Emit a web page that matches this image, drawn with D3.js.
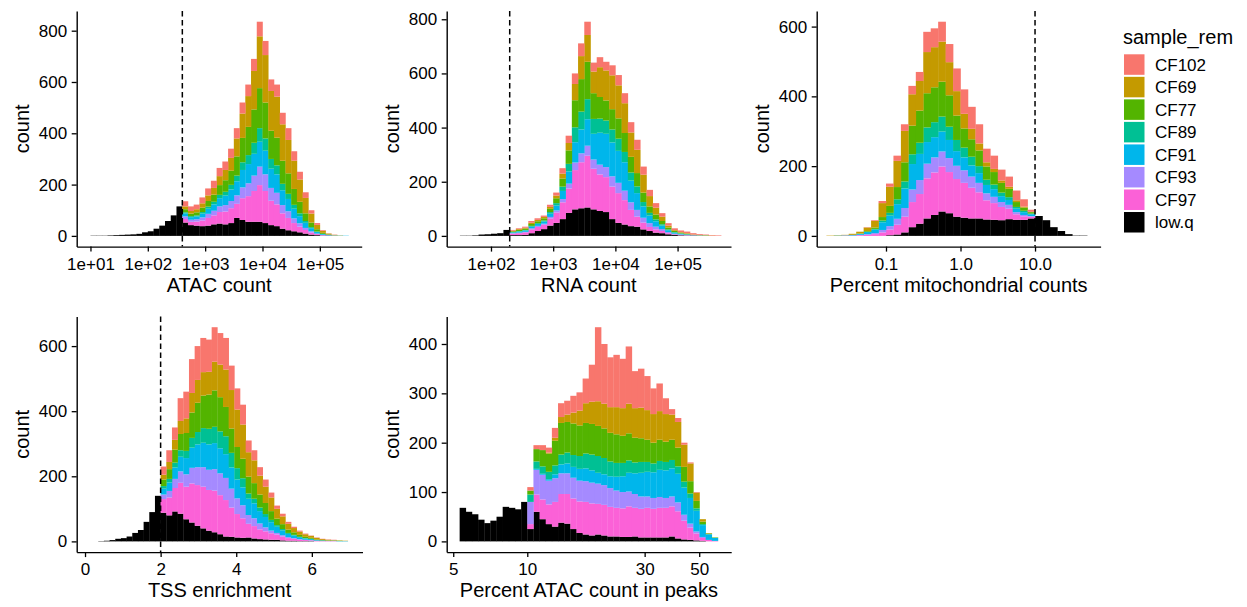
<!DOCTYPE html>
<html>
<head>
<meta charset="utf-8">
<script src="https://cdn.jsdelivr.net/npm/d3@7"></script>
<style>
  body { margin: 0; background: #fff; }
  svg { display: block; font-family: "Liberation Sans", Arial, Helvetica, sans-serif; }
</style>
</head>
<body>
<svg id="chart" width="1247" height="607"></svg>
<script>
// ---- samples (stacking order: first key sits at the bottom) ----
const stackKeys = ["low.q", "CF97", "CF93", "CF91", "CF89", "CF77", "CF69", "CF102"];
const legendKeys = ["CF102", "CF69", "CF77", "CF89", "CF91", "CF93", "CF97", "low.q"];
const sampleColors = ["#000000", "#FB61D7", "#A58AFF", "#00B6EB", "#00C094", "#53B400", "#C49A00", "#F8766D"];

// ---- ATAC count (bins are lower edges in log10 units, width 0.1) ----
const atacBins = [1.0,1.1,1.2,1.3,1.4,1.5,1.6,1.7,1.8,1.9,2.0,2.1,2.2,2.3,2.4,2.5,2.6,2.7,2.8,2.9,3.0,3.1,3.2,3.3,3.4,3.5,3.6,3.7,3.8,3.9,4.0,4.1,4.2,4.3,4.4,4.5,4.6,4.7,4.8,4.9,5.0,5.1,5.2,5.3,5.4];
const atacLowq  = [1,1,1,2,3,4,5,6,8,14,18,28,40,58,80,115, 52,42,40,38,40,45,48,45,50,70,62,55,55,55,50,42,38,28,22,18,14,9,5,3,1,1,0,0,0];
const atacCF97  = [0,0,0,0,0,0,0,0,0,0,0,0,0,0,0,0, 14,13,16,22,30,35,45,50,58,55,85,100,120,143,125,95,85,60,48,32,22,14,8,4,2,1,1,0,0];
const atacCF93  = [0,0,0,0,0,0,0,0,0,0,0,0,0,0,0,0, 10,8,9,12,16,18,22,25,28,33,42,50,60,72,65,50,45,32,26,18,13,8,5,2,1,0,0,0,0];
const atacCF91  = [0,0,0,0,0,0,0,0,0,0,0,0,0,0,0,0, 12,10,11,15,20,25,32,37,45,55,68,75,85,97,92,75,72,58,48,38,28,20,12,6,3,2,1,1,1];
const atacCF89  = [0,0,0,0,0,0,0,0,0,0,0,0,0,0,0,0, 4,4,4,6,8,10,13,15,18,22,30,35,43,53,48,38,35,25,20,15,11,7,4,2,1,0,0,0,0];
const atacCF77  = [0,0,0,0,0,0,0,0,0,0,0,0,0,0,0,0, 12,10,12,17,22,28,38,45,55,75,95,110,130,156,140,110,108,90,80,62,45,30,18,9,4,2,1,0,0];
const atacCF69  = [0,0,0,0,0,0,0,0,0,0,0,0,0,0,0,0, 11,10,12,17,22,26,35,40,50,70,95,120,150,202,185,155,160,142,130,110,87,60,35,17,7,3,1,1,0];
const atacCF102 = [0,0,0,0,0,0,0,0,0,0,0,0,0,0,0,0, 20,18,18,23,27,28,32,33,36,40,43,45,47,57,55,45,47,45,46,37,30,22,13,7,3,1,1,0,0];

// ---- RNA count (log10 edges, width 0.1) ----
const rnaBins = [1.5,1.6,1.7,1.8,1.9,2.0,2.1,2.2,2.3,2.4,2.5,2.6,2.7,2.8,2.9,3.0,3.1,3.2,3.3,3.4,3.5,3.6,3.7,3.8,3.9,4.0,4.1,4.2,4.3,4.4,4.5,4.6,4.7,4.8,4.9,5.0,5.1,5.2,5.3,5.4,5.5,5.6];
const rnaLowq  = [1,1,2,5,6,8,10,22, 3,3,4,10,18,25,38,48,62,85,98,102,105,98,92,88,62,48,42,36,34,24,18,12,10,6,4,2,1,1,0,0,0,0];
const rnaCF97  = [0,0,0,0,0,0,0,0, 5,7,9,14,15,16,26,38,62,90,145,170,191,150,135,129,120,110,90,60,37,25,15,12,8,4,2,2,1,1,1,0,0,0];
const rnaCF93  = [0,0,0,0,0,0,0,0, 2,2,2,4,4,4,6,8,12,18,28,33,37,34,36,37,38,38,35,28,25,18,14,10,7,4,2,1,1,0,0,0,0,0];
const rnaCF91  = [0,0,0,0,0,0,0,0, 3,4,5,6,7,8,12,18,30,45,75,88,98,95,118,123,125,118,105,80,62,42,28,20,13,7,4,3,2,1,1,1,0,0];
const rnaCF89  = [0,0,0,0,0,0,0,0, 1,2,2,3,3,4,6,9,16,28,55,66,74,55,52,49,48,45,38,30,25,16,10,7,5,3,2,1,1,0,0,0,0,0];
const rnaCF77  = [0,0,0,0,0,0,0,0, 3,4,5,7,7,8,12,18,30,50,100,120,138,95,80,74,75,75,70,58,49,35,24,18,12,7,4,3,2,1,1,1,0,0];
const rnaCF69  = [0,0,0,0,0,0,0,0, 2,3,3,5,5,5,7,10,18,27,60,85,99,80,110,111,125,122,110,90,86,66,38,25,16,7,3,2,2,1,1,1,1,0];
const rnaCF102 = [0,0,0,0,0,0,0,0, 3,3,4,6,6,5,8,11,20,27,39,47,49,33,37,32,37,38,37,38,37,30,23,17,13,9,7,6,6,5,3,2,2,2];

// ---- Percent mitochondrial counts (log10 edges, width 0.1) ----
const mitoBins = [-1.8,-1.7,-1.6,-1.5,-1.4,-1.3,-1.2,-1.1,-1.0,-0.9,-0.8,-0.7,-0.6,-0.5,-0.4,-0.3,-0.2,-0.1,0.0,0.1,0.2,0.3,0.4,0.5,0.6,0.7,0.8,0.9,1.0,1.1,1.2,1.3,1.4,1.5,1.6];
const mitoLowq  = [0,0,0,0,0,0,0,0,2,4,10,25,35,50,60,70,65,55,52,50,50,47,46,45,48,46,46,50,57,45,25,14,5,1,1];
const mitoCF97  = [0,0,1,1,2,3,5,10,16,28,45,72,85,115,122,129,118,108,100,88,75,55,48,38,30,16,10,5,0,0,0,0,0,0,0];
const mitoCF93  = [0,0,0,0,1,2,3,7,10,17,25,36,40,42,43,43,40,38,36,32,27,20,18,14,11,6,4,2,0,0,0,0,0,0,0];
const mitoCF91  = [0,1,1,2,3,6,10,22,30,42,56,73,75,62,58,57,52,42,37,32,28,24,22,17,14,10,8,5,0,0,0,0,0,0,0];
const mitoCF89  = [0,0,0,0,0,1,2,5,8,14,20,28,32,42,43,43,38,32,28,25,20,15,13,10,8,5,4,2,0,0,0,0,0,0,0];
const mitoCF77  = [0,0,0,0,1,2,4,10,20,35,55,82,92,98,100,100,90,70,55,50,45,38,36,28,24,14,9,4,0,0,0,0,0,0,0];
const mitoCF69  = [1,1,1,3,5,10,19,40,55,75,90,90,85,118,115,115,95,70,42,30,20,12,9,7,6,5,3,1,0,0,0,0,0,0,0];
const mitoCF102 = [0,0,0,0,0,1,2,6,9,15,19,24,26,58,54,57,52,65,70,63,55,39,38,31,29,28,21,6,0,0,0,0,0,0,0];

// ---- TSS enrichment (linear edges, width 0.15) ----
const tssBins = [0.35,0.5,0.65,0.8,0.95,1.1,1.25,1.4,1.55,1.7,1.85,2.0,2.15,2.3,2.45,2.6,2.75,2.9,3.05,3.2,3.35,3.5,3.65,3.8,3.95,4.1,4.25,4.4,4.55,4.7,4.85,5.0,5.15,5.3,5.45,5.6,5.75,5.9,6.05,6.2,6.35,6.5,6.65,6.8];
const tssLowq  = [1,2,4,8,10,15,26,35,60,90,140, 88,80,92,85,68,58,48,40,33,28,22,15,14,12,11,12,9,7,6,5,5,3,2,2,1,1,1,0,0,0,0,0,0];
const tssCF97  = [0,0,0,0,0,0,0,0,0,0,0, 42,55,72,95,100,120,125,128,125,128,120,112,90,72,60,42,38,30,25,20,16,12,8,6,4,3,2,2,1,1,1,0,0];
const tssCF93  = [0,0,0,0,0,0,0,0,0,0,0, 14,20,28,35,38,48,55,60,62,66,67,68,58,48,40,27,24,18,12,8,5,4,3,2,2,1,1,0,0,0,0,0,0];
const tssCF91  = [0,0,0,0,0,0,0,0,0,0,0, 18,26,35,45,50,62,70,75,78,80,77,73,65,58,55,50,46,38,32,26,19,15,10,8,6,4,3,2,2,1,1,1,1];
const tssCF89  = [0,0,0,0,0,0,0,0,0,0,0, 8,11,15,20,22,30,38,45,48,50,52,55,45,35,28,16,14,11,9,7,5,4,3,2,1,1,1,0,0,0,0,0,0];
const tssCF77  = [0,0,0,0,0,0,0,0,0,0,0, 20,30,40,50,55,78,90,100,105,112,105,90,75,65,60,52,48,40,34,27,20,15,10,8,6,4,3,2,1,1,1,1,0];
const tssCF69  = [0,0,0,0,0,0,0,0,0,0,0, 15,22,30,40,45,60,70,72,70,88,100,115,118,115,105,75,70,58,50,42,30,24,18,13,10,8,6,5,3,2,1,1,1];
const tssCF102 = [0,0,0,0,0,0,0,0,0,0,0, 25,36,38,70,82,104,104,105,99,106,97,97,75,65,61,36,31,26,22,15,10,8,6,4,3,2,1,1,1,1,1,0,0];

// ---- Percent ATAC count in peaks (log10 edges, width 0.025) ----
const peakBins = [0.725,0.75,0.775,0.8,0.825,0.85,0.875,0.9,0.925,0.95,0.975,1.0,1.025,1.05,1.075,1.1,1.125,1.15,1.175,1.2,1.225,1.25,1.275,1.3,1.325,1.35,1.375,1.4,1.425,1.45,1.475,1.5,1.525,1.55,1.575,1.6,1.625,1.65,1.675,1.7,1.725,1.75];
const peakLowq  = [68,60,55,44,37,42,50,70,68,65,80, 25,60,45,35,30,38,36,25,17,14,12,14,12,10,10,9,9,10,8,8,8,8,8,10,6,4,3,2,1,0,0];
const peakCF97  = [0,0,0,0,0,0,0,0,0,0,0, 10,35,40,40,50,58,60,62,64,66,65,62,62,60,58,58,62,58,58,60,58,60,60,61,55,38,25,14,6,3,1];
const peakCF93  = [0,0,0,0,0,0,0,0,0,0,0, 45,50,50,48,48,42,42,42,42,42,42,41,40,38,35,33,30,28,25,23,22,22,20,20,18,12,8,4,2,0,0];
const peakCF91  = [0,0,0,0,0,0,0,0,0,0,0, 0,2,2,3,8,18,20,22,24,26,25,22,22,24,28,32,38,42,48,50,52,55,56,57,58,55,52,42,24,11,6];
const peakCF89  = [0,0,0,0,0,0,0,0,0,0,0, 15,15,15,15,18,20,22,24,26,30,32,34,33,30,28,27,25,22,22,20,18,18,17,17,15,12,9,5,2,1,0];
const peakCF77  = [0,0,0,0,0,0,0,0,0,0,0, 8,25,33,37,50,64,62,64,62,62,62,61,60,58,58,55,55,50,48,45,42,43,41,41,38,30,25,15,5,1,1];
const peakCF69  = [0,0,0,0,0,0,0,0,0,0,0, 0,0,0,2,6,12,15,22,30,40,45,50,50,52,55,56,60,60,62,60,58,58,56,51,52,45,36,17,5,1,0];
const peakCF102 = [0,0,0,0,0,0,0,0,0,0,0, 7,8,10,10,20,28,28,34,37,50,75,150,121,101,106,100,116,75,79,69,52,56,32,11,8,4,2,1,0,0,0];

// ---- axis ticks ----
const atacXTicks = [1e1, 1e2, 1e3, 1e4, 1e5];
const atacXLabels = ["1e+01", "1e+02", "1e+03", "1e+04", "1e+05"];
const rnaXTicks = [1e2, 1e3, 1e4, 1e5];
const rnaXLabels = ["1e+02", "1e+03", "1e+04", "1e+05"];
const mitoXTicks = [0.1, 1, 10];
const mitoXLabels = ["0.1", "1.0", "10.0"];
const tssXTicks = [0, 2, 4, 6];
const tssXLabels = ["0", "2", "4", "6"];
const peakXTicks = [5, 10, 30, 50];
const peakXLabels = ["5", "10", "30", "50"];
const countTicks800 = [0, 200, 400, 600, 800];
const countTicks600 = [0, 200, 400, 600];
const countTicks400 = [0, 100, 200, 300, 400];

// ---- cut-offs marked with dashed lines ----
const atacCut = 400, rnaCut = 200, mitoCut = 10, tssCut = 2;

const svg = d3.select("#chart");
const FONT_TICK = 17, FONT_TITLE = 20;

function seriesOf(arrs) {
  const m = {};
  stackKeys.forEach((k, i) => { m[k] = arrs[i]; });
  return m;
}

function drawPanel(p) {
  const rows = p.bins.map((lo, i) => {
    const r = { lo: lo, hi: lo + p.width };
    stackKeys.forEach(k => { r[k] = p.series[k][i]; });
    return r;
  });
  const layers = d3.stack().keys(stackKeys)(rows);
  const yMax = d3.max(rows, r => d3.sum(stackKeys, k => r[k]));

  const x = p.log
    ? d3.scaleLog().domain(p.xLim.map(v => Math.pow(10, v)))
    : d3.scaleLinear().domain(p.xLim);
  x.range([p.box.l, p.box.r]);
  const binX = v => p.log ? x(Math.pow(10, v)) : x(v);
  const y = d3.scaleLinear().domain([-0.05 * yMax, 1.05 * yMax]).range([p.box.b, p.box.t]);

  const g = svg.append("g");

  g.selectAll("g.layer").data(layers).join("g")
    .attr("class", "layer")
    .attr("fill", (d, i) => sampleColors[i])
    .selectAll("rect")
    .data(d => d.filter(s => s[1] - s[0] > 0))
    .join("rect")
    .attr("x", s => binX(s.data.lo))
    .attr("width", s => binX(s.data.hi) - binX(s.data.lo) + 0.3)
    .attr("y", s => y(s[1]))
    .attr("height", s => y(s[0]) - y(s[1]));

  if (p.cut !== undefined) {
    g.append("line")
      .attr("x1", x(p.cut)).attr("x2", x(p.cut))
      .attr("y1", p.box.t).attr("y2", p.box.b)
      .attr("stroke", "#000").attr("stroke-width", 1.5)
      .attr("stroke-dasharray", "5.5,3.5");
  }

  const xAxis = d3.axisBottom(x)
    .tickValues(p.xTicks)
    .tickFormat((d, i) => p.xLabels[i])
    .tickSize(5).tickSizeOuter(0).tickPadding(6);
  const yAxis = d3.axisLeft(y)
    .tickValues(p.yTicks)
    .tickSize(5).tickSizeOuter(0).tickPadding(4.5);

  const gx = g.append("g").attr("transform", `translate(0,${p.box.b})`).call(xAxis);
  const gy = g.append("g").attr("transform", `translate(${p.box.l},0)`).call(yAxis);
  [gx, gy].forEach(a => {
    a.select(".domain").attr("stroke", "#000").attr("stroke-width", 1.4);
    a.selectAll(".tick line").attr("stroke", "#000").attr("stroke-width", 1.3);
    a.selectAll(".tick text").attr("fill", "#000")
      .style("font-size", FONT_TICK + "px")
      .style("font-family", '"Liberation Sans", Arial, sans-serif');
  });

  g.append("text")
    .attr("x", (p.box.l + p.box.r) / 2)
    .attr("y", p.box.b + 45)
    .attr("text-anchor", "middle")
    .style("font-size", FONT_TITLE + "px")
    .attr("fill", "#000")
    .text(p.xTitle);

  g.append("text")
    .attr("transform", `translate(${p.box.l - 48},${(p.box.t + p.box.b) / 2}) rotate(-90)`)
    .attr("text-anchor", "middle")
    .style("font-size", FONT_TITLE + "px")
    .attr("fill", "#000")
    .text("count");
}

const topRow = { t: 11, b: 246.6 };
const bottomRow = { t: 316.5, b: 552.1 };

drawPanel({
  bins: atacBins, width: 0.1, log: true, xLim: [0.76, 5.73],
  series: seriesOf([atacLowq, atacCF97, atacCF93, atacCF91, atacCF89, atacCF77, atacCF69, atacCF102]),
  box: { l: 76.7, r: 361.7, t: topRow.t, b: topRow.b },
  xTicks: atacXTicks, xLabels: atacXLabels, yTicks: countTicks800,
  cut: atacCut, xTitle: "ATAC count"
});
drawPanel({
  bins: rnaBins, width: 0.1, log: true, xLim: [1.288, 5.859],
  series: seriesOf([rnaLowq, rnaCF97, rnaCF93, rnaCF91, rnaCF89, rnaCF77, rnaCF69, rnaCF102]),
  box: { l: 446.7, r: 731, t: topRow.t, b: topRow.b },
  xTicks: rnaXTicks, xLabels: rnaXLabels, yTicks: countTicks800,
  cut: rnaCut, xTitle: "RNA count"
});
drawPanel({
  bins: mitoBins, width: 0.1, log: true, xLim: [-1.93, 1.88],
  series: seriesOf([mitoLowq, mitoCF97, mitoCF93, mitoCF91, mitoCF89, mitoCF77, mitoCF69, mitoCF102]),
  box: { l: 816.7, r: 1100.6, t: topRow.t, b: topRow.b },
  xTicks: mitoXTicks, xLabels: mitoXLabels, yTicks: countTicks600,
  cut: mitoCut, xTitle: "Percent mitochondrial counts"
});
drawPanel({
  bins: tssBins, width: 0.15, log: false, xLim: [-0.22, 7.34],
  series: seriesOf([tssLowq, tssCF97, tssCF93, tssCF91, tssCF89, tssCF77, tssCF69, tssCF102]),
  box: { l: 76.7, r: 362.5, t: bottomRow.t, b: bottomRow.b },
  xTicks: tssXTicks, xLabels: tssXLabels, yTicks: countTicks600,
  cut: tssCut, xTitle: "TSS enrichment"
});
drawPanel({
  bins: peakBins, width: 0.025, log: true, xLim: [0.6724, 1.829],
  series: seriesOf([peakLowq, peakCF97, peakCF93, peakCF91, peakCF89, peakCF77, peakCF69, peakCF102]),
  box: { l: 446.7, r: 731.2, t: bottomRow.t, b: bottomRow.b },
  xTicks: peakXTicks, xLabels: peakXLabels, yTicks: countTicks400,
  xTitle: "Percent ATAC count in peaks"
});

// ---- legend ----
const legend = svg.append("g");
legend.append("text")
  .attr("x", 1123).attr("y", 43.5)
  .style("font-size", FONT_TITLE + "px").attr("fill", "#000")
  .text("sample_rem");
const keyY = d3.scaleLinear().domain([0, 1]).range([54.3, 76.83]);
legendKeys.forEach((k, i) => {
  const col = sampleColors[stackKeys.indexOf(k)];
  legend.append("rect")
    .attr("x", 1124).attr("y", keyY(i))
    .attr("width", 20.5).attr("height", 20.5)
    .attr("fill", col);
  legend.append("text")
    .attr("x", 1155).attr("y", keyY(i) + 10.25 + 6.1)
    .style("font-size", FONT_TICK + "px").attr("fill", "#000")
    .text(k);
});
</script>
</body>
</html>
